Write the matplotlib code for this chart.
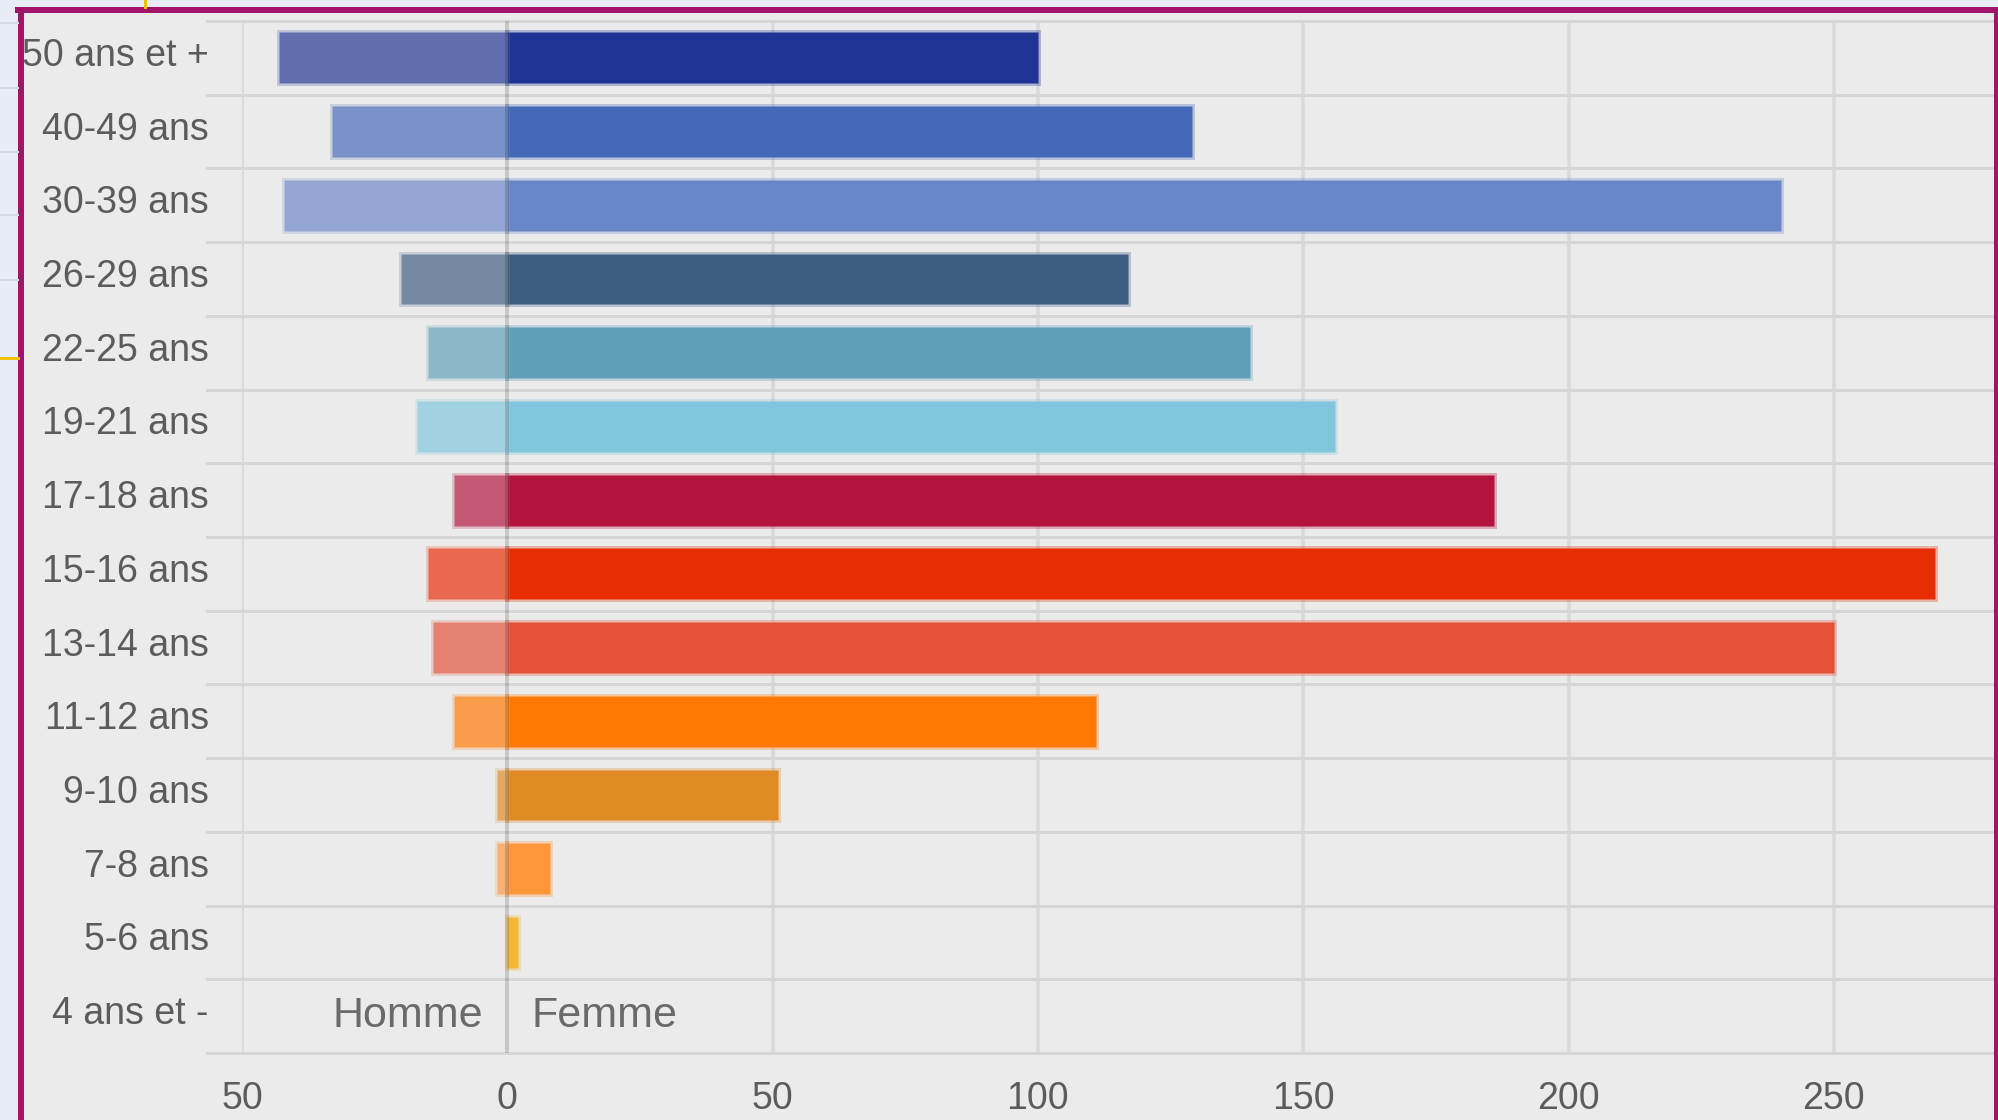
import numpy as np
import matplotlib.pyplot as plt
from matplotlib.colors import to_rgb
from matplotlib.lines import Line2D
from matplotlib.patches import Rectangle
from matplotlib.transforms import ScaledTranslation

# tranches d'age, de haut en bas
ages = ["50 ans et +", "40-49 ans", "30-39 ans", "26-29 ans", "22-25 ans",
        "19-21 ans", "17-18 ans", "15-16 ans", "13-14 ans", "11-12 ans",
        "9-10 ans", "7-8 ans", "5-6 ans", "4 ans et -"]
femme = [100, 129, 240, 117, 140, 156, 186, 269, 250, 111, 51, 8, 2, 0]
homme = [43, 33, 42, 20, 15, 17, 10, 15, 14, 10, 2, 2, 0, 0]
colors = ["#1e3393", "#4468b8", "#6986c8", "#3c5d80", "#5ea0b8", "#80c6dd",
          "#b3133c", "#e82c04", "#e35137", "#ff7800", "#e08b24", "#fd963a",
          "#f4b73c", "#cccccc"]
xticks = [-50, 0, 50, 100, 150, 200, 250]

bg = "#ebebeb"
W, H = 1998, 1120


def lighter(c, a=0.68):
    # couleur opaque melangee avec le fond
    r = np.array(to_rgb(c))
    b = np.array(to_rgb(bg))
    return tuple(a * r + (1 - a) * b)


def edge(c):
    return to_rgb(c) + (0.3,)


fig = plt.figure(figsize=(W / 100, H / 100), dpi=100, facecolor="#e8ecf4")

# fond interieur du cadre
fig.patches.append(Rectangle((21 / W, 0), (1996 - 21) / W, 1 - 10 / H,
                             transform=fig.transFigure, facecolor=bg,
                             edgecolor="none", zorder=-5))

ax = fig.add_axes([242 / W, 1 - 1053 / H, (1993 - 242) / W, (1053 - 21) / H])
ax.set_facecolor(bg)
for s in ax.spines.values():
    s.set_visible(False)

y = np.arange(len(ages))
h = 0.69
px = 72 / 100
for i in y:
    fc = colors[i]
    if femme[i] > 0:
        ax.barh(i, femme[i], height=h, color=fc, edgecolor=edge(fc),
                linewidth=5 * px, zorder=3)
    if homme[i] > 0:
        hc = lighter(fc)
        ax.barh(i, -homme[i], height=h, color=hc, edgecolor=edge(hc),
                linewidth=5 * px, zorder=3)

# grille verticale
for xt in xticks:
    if xt == 0:
        ax.axvline(xt, color="black", alpha=0.15, lw=4 * px, zorder=4)
    else:
        ax.axvline(xt, color="#d9d9d9", lw=3.5 * px, zorder=1)

# separateurs de lignes, un peu debordants a gauche
for k in range(len(ages) + 1):
    ax.add_line(Line2D([-0.02, 1], [k - 0.5, k - 0.5], color="#d6d6d6",
                       lw=3 * px, transform=ax.get_yaxis_transform(),
                       clip_on=False, zorder=1))

ax.set_xlim(-50, 280)
ax.set_ylim(len(ages) - 0.5, -0.5)
ax.set_yticks(y)
ax.set_yticklabels(ages)
ax.set_xticks(xticks)
ax.set_xticklabels([str(abs(v)) for v in xticks])
ax.tick_params(length=0, labelsize=27, colors="#5c5c5c")
ax.tick_params(axis="y", pad=24)
ax.tick_params(axis="x", pad=20)
up = ScaledTranslation(0, 6 / 100, fig.dpi_scale_trans)
for lab in ax.get_yticklabels():
    lab.set_transform(lab.get_transform() + up)
for lab in ax.get_xticklabels() + ax.get_yticklabels():
    lab.set_fontfamily("Liberation Sans")

ax.text(-4.5, len(ages) - 1, "Homme", ha="right", va="center", fontsize=31,
        color="#6a6a6a", family="Liberation Sans", zorder=5)
ax.text(4.5, len(ages) - 1, "Femme", ha="left", va="center", fontsize=31,
        color="#6a6a6a", family="Liberation Sans", zorder=5)

# cadre magenta
mag = "#a0146a"
fig.lines.append(Line2D([21 / W, 21 / W], [0, 1 - 10 / H], color=mag,
                        lw=6 * px, transform=fig.transFigure))
fig.lines.append(Line2D([18 / W, 1998 / W], [1 - 10 / H, 1 - 10 / H], color=mag,
                        lw=6 * px, transform=fig.transFigure))
fig.lines.append(Line2D([1996 / W, 1996 / W], [0, 1 - 10 / H], color=mag,
                        lw=5 * px, transform=fig.transFigure))

# petits restes de la capture a gauche
fig.lines.append(Line2D([144.5 / W, 144.5 / W], [1, 1 - 7 / H], color="#f2c100",
                        lw=3 * px, transform=fig.transFigure))
fig.lines.append(Line2D([0, 18 / W], [1 - 357.5 / H, 1 - 357.5 / H], color="#f2c100",
                        lw=3 * px, transform=fig.transFigure))
for yy in [23, 88, 152, 215, 280]:
    fig.lines.append(Line2D([0, 18 / W], [1 - yy / H, 1 - yy / H], color="#d4d8e0",
                            lw=2 * px, transform=fig.transFigure))

fig.savefig("out.png", dpi=100, facecolor=fig.get_facecolor())
